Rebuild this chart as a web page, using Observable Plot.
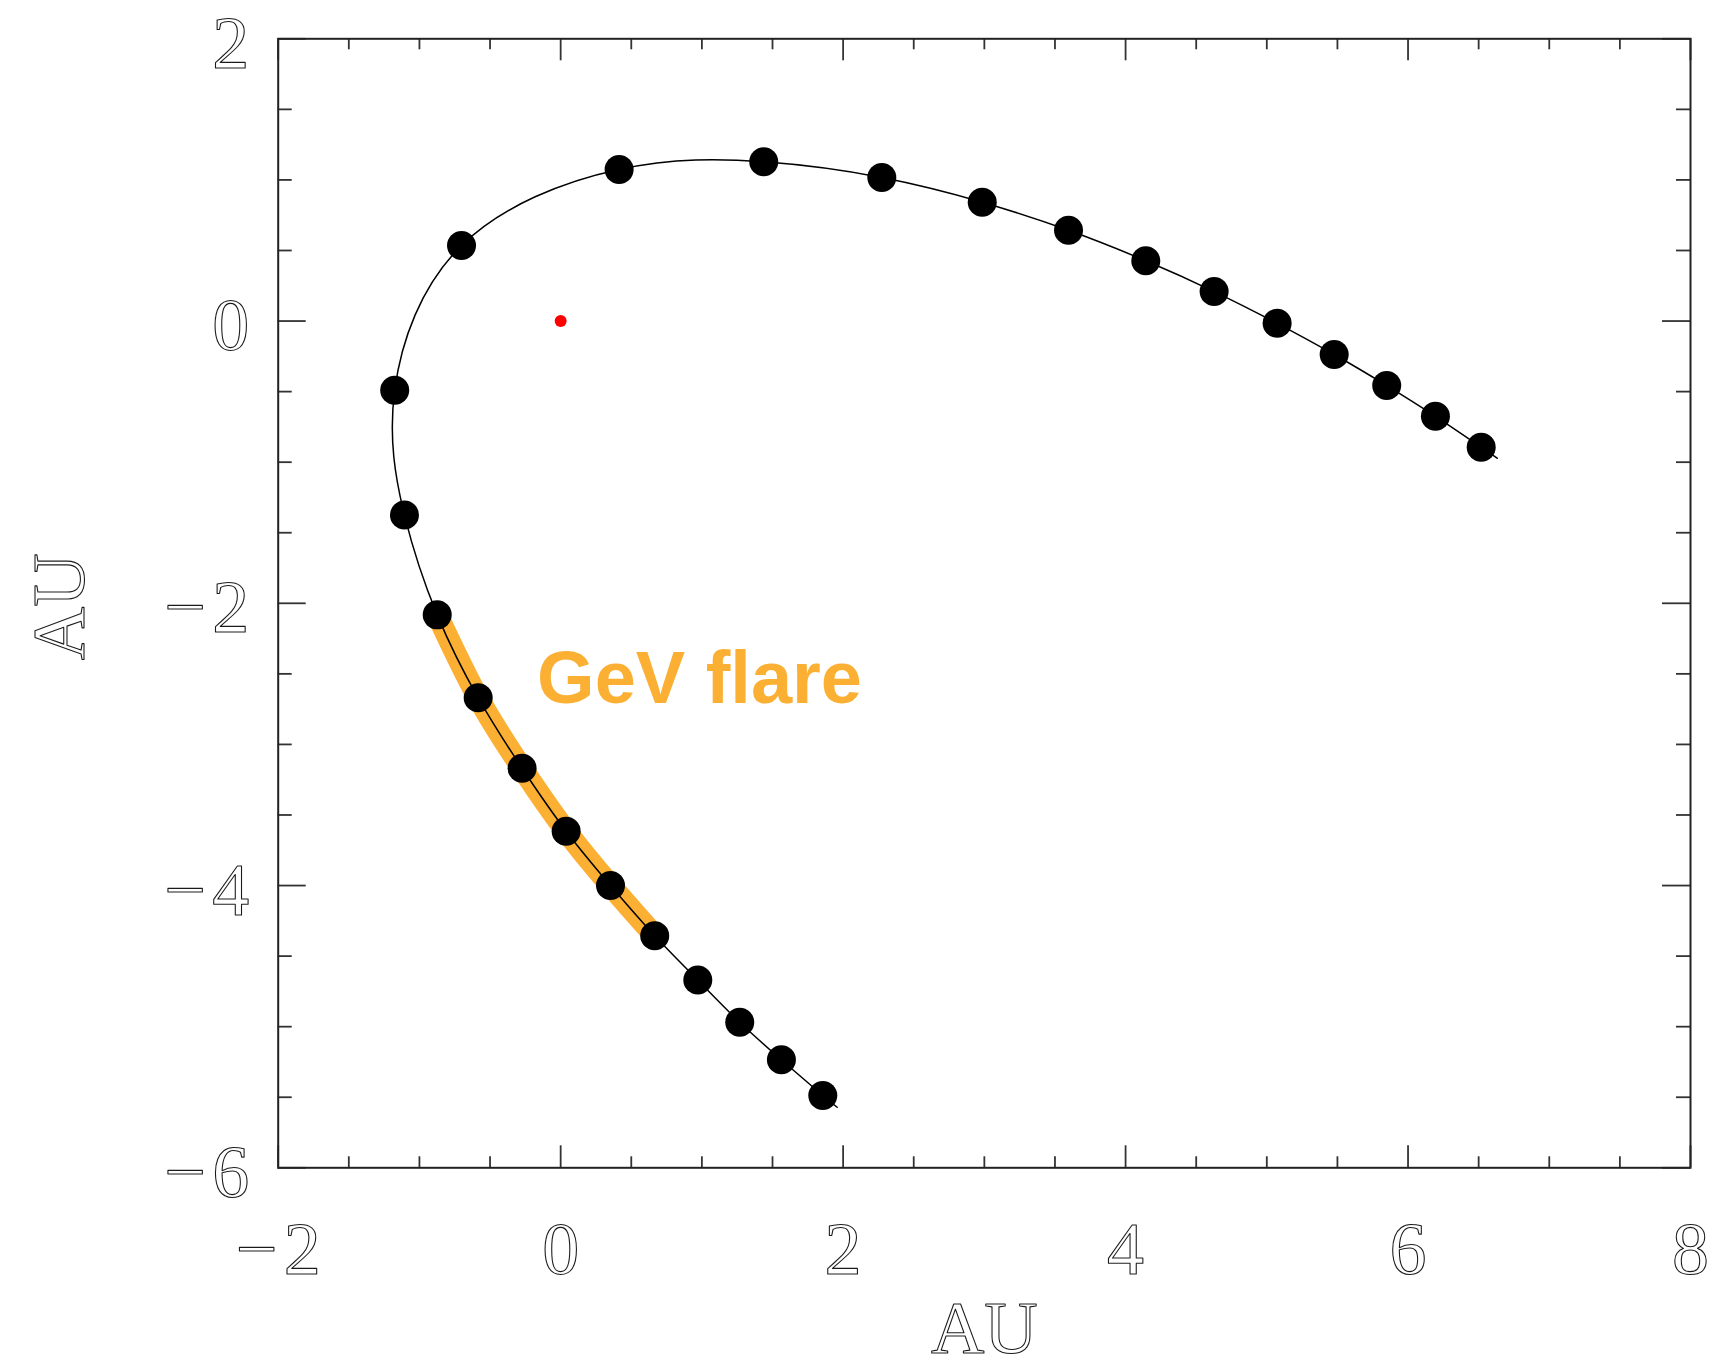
<!DOCTYPE html>
<html>
<head>
<meta charset="utf-8">
<script src="https://cdn.jsdelivr.net/npm/d3@7"></script>
<script src="https://cdn.jsdelivr.net/npm/@observablehq/plot@0.6"></script>
<style>
  html, body { margin: 0; padding: 0; background: #ffffff; }
</style>
</head>
<body>
<div id="chart"></div>
<script>
// ---- Data (AU) ----
// Positions of the black dots along the orbit (upper-right end -> lower end)
const dotX = [6.518, 6.194, 5.849, 5.477, 5.073, 4.627, 4.143, 3.596, 2.985, 2.274,
              1.438, 0.414, -0.702, -1.175, -1.106, -0.874, -0.584, -0.273, 0.039, 0.353,
              0.666, 0.971, 1.268, 1.563, 1.856];
const dotY = [-0.894, -0.675, -0.457, -0.237, -0.016, 0.209, 0.427, 0.643, 0.842, 1.017,
              1.128, 1.074, 0.535, -0.490, -1.375, -2.082, -2.670, -3.169, -3.615, -4.000,
              -4.356, -4.670, -4.969, -5.235, -5.488];

// Orbit line: its two ends, with the dots in between
const orbitStartX = [6.631], orbitStartY = [-0.972];
const orbitEndX = [1.958], orbitEndY = [-5.571];

// GeV flare segment of the orbit
const flareX = [-0.874, -0.584, -0.273, 0.039, 0.353, 0.666];
const flareY = [-2.082, -2.670, -3.169, -3.615, -4.000, -4.356];

// Central star
const starX = [0];
const starY = [0];

// Annotation
const flareLabelText = ["GeV flare"];
const flareLabelX = [-0.167];
const flareLabelY = [-2.708];

// Axes
const xDomain = [-2, 8];
const yDomain = [-6, 2];
const xMajor = [-2, 0, 2, 4, 6, 8];
const xMinor = [-1.5, -1, -0.5, 0.5, 1, 1.5, 2.5, 3, 3.5, 4.5, 5, 5.5, 6.5, 7, 7.5];
const yMajor = [-6, -4, -2, 0, 2];
const yMinor = [-5.5, -5, -4.5, -3.5, -3, -2.5, -1.5, -1, -0.5, 0.5, 1, 1.5];
const xTitle = "AU";
const yTitle = "AU";

// ---- Build tables ----
const dots = dotX.map((x, i) => ({x, y: dotY[i]}));
const orbit = [
  ...orbitStartX.map((x, i) => ({x, y: orbitStartY[i]})),
  ...dots,
  ...orbitEndX.map((x, i) => ({x, y: orbitEndY[i]}))
];
const flare = flareX.map((x, i) => ({x, y: flareY[i]}));
const star = starX.map((x, i) => ({x, y: starY[i]}));
const flareLabel = flareLabelText.map((t, i) => ({t, x: flareLabelX[i], y: flareLabelY[i]}));

// ---- Layout ----
const W = 1711, H = 1370;
const mL = 277.7, mR = 21, mT = 38.3, mB = 202.7;
const plotW = W - mL - mR, plotH = H - mT - mB;
const majX = 22, minX = 11, majY = 28, minY = 14;

const orange = "#FBB034";
const serif = "'Liberation Serif', 'DejaVu Serif', serif";
const hollow = {fontFamily: serif, fontSize: 74, fill: "white", stroke: "#1a1a1a", strokeWidth: 1.1, paintOrder: "normal"};
const fmt = d => d < 0 ? "\u2212\u200A" + Math.abs(d) : String(d);
const tickStyle = {stroke: "#333", strokeWidth: 1.8};

const chart = Plot.plot({
  width: W,
  height: H,
  marginLeft: mL, marginRight: mR, marginTop: mT, marginBottom: mB,
  x: {domain: xDomain, axis: null},
  y: {domain: yDomain, axis: null},
  style: {background: "white", overflow: "visible"},
  marks: [
    // flare highlight
    Plot.line(flare, {x: "x", y: "y", curve: "natural", stroke: orange, strokeWidth: 22, strokeLinecap: "butt"}),
    // orbit
    Plot.line(orbit, {x: "x", y: "y", curve: "natural", stroke: "black", strokeWidth: 1.5}),
    Plot.dot(dots, {x: "x", y: "y", r: 14.5, fill: "black"}),
    Plot.dot(star, {x: "x", y: "y", r: 6, fill: "#ff0000"}),
    Plot.text(flareLabel, {x: "x", y: "y", text: "t", textAnchor: "start", lineAnchor: "bottom",
      fontFamily: "'Liberation Sans', Arial, sans-serif", fontWeight: "bold", fontSize: 74, fill: orange}),

    // ticks (inward, all four sides)
    Plot.ruleX(xMajor, {x: d => d, insetTop: plotH - majX, ...tickStyle}),
    Plot.ruleX(xMinor, {x: d => d, insetTop: plotH - minX, ...tickStyle}),
    Plot.ruleX(xMajor, {x: d => d, insetBottom: plotH - majX, ...tickStyle}),
    Plot.ruleX(xMinor, {x: d => d, insetBottom: plotH - minX, ...tickStyle}),
    Plot.ruleY(yMajor, {y: d => d, insetRight: plotW - majY, ...tickStyle}),
    Plot.ruleY(yMinor, {y: d => d, insetRight: plotW - minY, ...tickStyle}),
    Plot.ruleY(yMajor, {y: d => d, insetLeft: plotW - majY, ...tickStyle}),
    Plot.ruleY(yMinor, {y: d => d, insetLeft: plotW - minY, ...tickStyle}),
    Plot.frame({stroke: "#222", strokeWidth: 2}),

    // tick labels
    Plot.text(xMajor, {x: d => d, frameAnchor: "bottom", text: fmt, textAnchor: "middle", lineAnchor: "bottom", dy: 106, ...hollow}),
    Plot.text(yMajor, {y: d => d, frameAnchor: "left", text: fmt, textAnchor: "end", lineAnchor: "bottom", dx: -29, dy: 29, ...hollow}),

    // axis titles
    Plot.text([xTitle], {frameAnchor: "bottom", text: d => d, textAnchor: "middle", lineAnchor: "bottom", dy: 185, ...hollow}),
    Plot.text([yTitle], {frameAnchor: "left", text: d => d, rotate: -90, textAnchor: "middle", lineAnchor: "bottom", dx: -194.7, dy: 3.5, ...hollow})
  ]
});

document.getElementById("chart").appendChild(chart);
</script>
</body>
</html>
